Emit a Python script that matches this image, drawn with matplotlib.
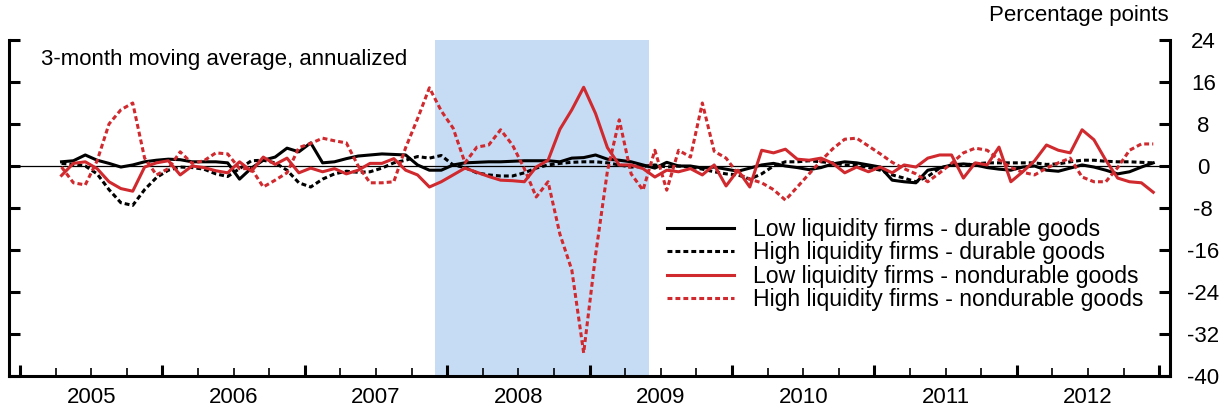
import numpy as np
import matplotlib
matplotlib.use("Agg")
import matplotlib.pyplot as plt
from matplotlib.ticker import FixedLocator, NullFormatter

plt.rcParams['font.family'] = ['Liberation Sans', 'DejaVu Sans']
plt.rcParams['axes.unicode_minus'] = False

# monthly, Apr 2005 - Dec 2012 (points at mid-month)
start_year = 2005
start_month = 4
n_months = 93

low_durable = [
    0.8, 1.0, 2.1, 1.1, 0.5, -0.2, 0.2, 0.8, 1.1, 1.3,
    1.2, 0.8, 0.8, 0.8, 0.6, -2.5, -0.4, 1.1, 1.7, 3.4,
    2.7, 4.4, 0.6, 0.8, 1.4, 1.9, 2.1, 2.3, 2.2, 2.1,
    0.2, -0.8, -0.8, 0.2, 0.6, 0.7, 0.8, 0.8, 0.9, 1.0,
    1.0, 1.0, 0.8, 1.5, 1.6, 2.1, 1.3, 1.1, 0.8, 0.2,
    -0.4, 0.7, 0.0, 0.0, -0.4, -0.2, -0.6, -1.0, -0.4, 0.2,
    0.5, 0.0, -0.3, -0.7, -0.3, 0.4, 0.8, 0.6, 0.2, -0.2,
    -2.7, -3.0, -3.2, -0.8, -0.4, 0.2, 0.4, 0.2, -0.3, -0.6,
    -0.8, -0.2, 0.0, -0.8, -1.0, -0.4, 0.2, -0.2, -0.8, -1.5,
    -1.1, -0.2, 0.6,
]

high_durable = [
    0.5, 0.3, 0.0, -1.5, -4.5, -7.0, -7.5, -4.5, -2.2, -0.8,
    -0.2, -0.3, -0.6, -1.5, -2.0, -0.5, 1.0, 1.1, 0.6, -0.8,
    -3.2, -4.0, -2.5, -1.5, -1.0, -1.2, -1.1, -0.4, 0.6, 1.1,
    1.8, 1.5, 2.0, 0.2, -0.3, -1.3, -1.7, -1.9, -1.9, -1.3,
    -0.4, 0.2, 0.5, 0.7, 0.8, 0.8, 0.6, 0.2, -0.2, -0.1,
    0.2, -0.2, 0.0, -0.2, -0.6, -1.1, -1.5, -1.7, -2.5, -1.5,
    0.0, 0.8, 0.8, 1.0, 0.8, 0.6, 0.2, 0.1, -0.3, -0.8,
    -1.7, -2.3, -3.0, -2.0, -0.4, 0.2, 0.2, 0.4, 0.6, 0.6,
    0.6, 0.6, 0.6, 0.3, 0.4, 0.8, 1.1, 1.1, 0.9, 0.8,
    0.8, 0.7, 0.6,
]

low_nondurable = [
    -1.8, 0.5, 0.8, -0.5, -3.0, -4.3, -4.8, -0.2, 0.6, 1.0,
    -1.7, 0.0, -0.3, -0.9, -1.3, 0.8, -1.0, 1.7, 0.3, 1.5,
    -1.3, -0.4, -1.1, -0.5, -1.5, -0.8, 0.5, 0.5, 1.4, -0.8,
    -1.7, -4.0, -3.0, -1.7, -0.4, -1.2, -2.0, -2.7, -2.8, -3.0,
    -0.2, 1.1, 7.0, 10.7, 15.0, 10.0, 3.5, 0.2, 0.2, -0.5,
    -2.1, -0.8, -1.1, -0.5, -1.7, 0.2, -3.8, -0.8, -4.0, 3.0,
    2.5, 3.2, 1.3, 1.1, 1.5, 0.5, -1.3, -0.2, -1.1, -0.2,
    -1.3, 0.2, -0.2, 1.5, 2.1, 2.1, -2.3, 0.6, 0.2, 3.6,
    -3.0, -1.1, 1.0, 4.0, 3.0, 2.5, 6.9, 5.0, 1.1, -2.3,
    -3.0, -3.2, -5.0,
]

high_nondurable = [
    -0.2, -3.2, -3.6, 1.0, 8.0, 10.7, 12.0, 1.5, -1.7, -0.5,
    2.7, 0.5, 1.0, 2.5, 2.3, -0.5, -0.5, -4.0, -2.7, -1.3,
    3.5, 4.3, 5.3, 4.8, 4.4, 0.0, -3.2, -3.2, -3.0, 3.5,
    9.0, 14.9, 10.5, 7.2, 0.6, 3.6, 4.0, 6.9, 4.0, -0.5,
    -5.9, -3.0, -13.0, -19.8, -35.6, -17.0, -1.0, 8.8, -1.5, -4.6,
    3.0, -4.6, 3.0, 1.7, 12.0, 2.8, 1.5, -1.5, -2.5, -3.2,
    -4.5, -6.5, -4.0, -1.5, 1.0, 3.3, 5.1, 5.3, 3.8, 2.3,
    0.7, -0.5, -1.5, -3.0, -1.3, 0.5, 2.5, 3.4, 3.0, 1.2,
    -0.3, -1.2, -1.7, -0.4, 0.6, 1.5, -2.1, -3.0, -3.0, -0.3,
    3.0, 4.2, 4.2,
]

labels = [
    "Low liquidity firms - durable goods",
    "High liquidity firms - durable goods",
    "Low liquidity firms - nondurable goods",
    "High liquidity firms - nondurable goods",
]

recession = (2007 + 11 / 12, 2009 + 5 / 12)
years = list(range(2005, 2013))
yticks = [24, 16, 8, 0, -8, -16, -24, -32, -40]

red = '#d0292e'
fs = 16

x = start_year + (start_month - 1 + 0.5 + np.arange(n_months)) / 12

fig = plt.figure(figsize=(12.29, 4.13), dpi=100)
ax = fig.add_axes([9 / 1229, 1 - 376 / 413, 1161 / 1229, 336 / 413])

ax.axvspan(recession[0], recession[1], color='#c6dcf5', lw=0, zorder=0)
ax.axhline(0, color='black', lw=0.9, zorder=1)

lw = 2.2
dash = (0, (1.6, 1.0))
ax.plot(x, low_durable, color='black', lw=lw, label=labels[0], zorder=3)
ax.plot(x, high_durable, color='black', lw=lw, ls=dash, label=labels[1], zorder=3)
ax.plot(x, low_nondurable, color=red, lw=lw, label=labels[2], zorder=4)
ax.plot(x, high_nondurable, color=red, lw=lw, ls=dash, label=labels[3], zorder=4)

ax.set_xlim(2005 - 11 / 142.4, 2005 + 1150 / 142.4)
ax.set_ylim(-40, 24)

for s in ['left', 'right', 'bottom']:
    ax.spines[s].set_linewidth(2.2)
ax.spines['top'].set_visible(False)

# y axis: ticks on both sides, labels on the right
ax.set_yticks(yticks)
ax.tick_params(axis='y', which='major', direction='in', length=8, width=2.2,
               left=True, right=True, labelleft=False, labelright=True,
               labelsize=fs, pad=24)
for t in ax.get_yticklabels():
    t.set_horizontalalignment('center')

# x axis: year boundaries major, quarters minor, labels mid-year
ax.xaxis.set_major_locator(FixedLocator(years + [2013]))
ax.xaxis.set_major_formatter(NullFormatter())
ax.xaxis.set_minor_locator(FixedLocator([y + q / 4 for y in years for q in (1, 2, 3)]))
ax.tick_params(axis='x', which='major', direction='in', length=8, width=2.2)
ax.tick_params(axis='x', which='minor', direction='in', length=5.5, width=1.2)

sec = ax.secondary_xaxis('bottom')
sec.set_xticks([y + 0.5 for y in years], labels=[str(y) for y in years])
sec.tick_params(length=0, labelsize=fs, pad=8)
sec.spines['bottom'].set_visible(False)

ax.text(32 / 1161, (376 - 60) / 336, "3-month moving average, annualized",
        transform=ax.transAxes, fontsize=fs, va='center', ha='left')
fig.text(1169 / 1229, 1 - 16 / 413, "Percentage points", fontsize=fs,
         ha='right', va='center')

ax.legend(loc='upper left', bbox_to_anchor=((667 - 9) / 1161, (376 - 218) / 336),
          frameon=False, fontsize=16.6, handlelength=2.9, handletextpad=0.85,
          labelspacing=0.02, borderpad=0, borderaxespad=0)

fig.savefig("out.png", dpi=100)
